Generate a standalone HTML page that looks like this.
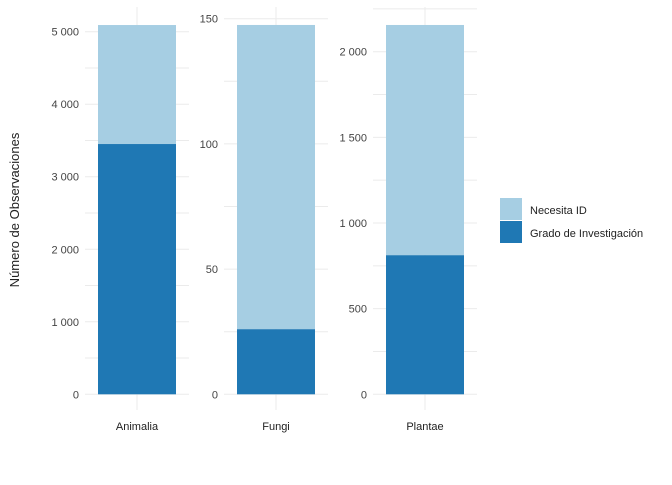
<!DOCTYPE html>
<html><head><meta charset="utf-8"><style>
body{margin:0;background:#fff;font-family:"Liberation Sans","DejaVu Sans",sans-serif}
</style></head><body>
<svg id="chart" width="672" height="480" xmlns="http://www.w3.org/2000/svg" font-family="Liberation Sans, DejaVu Sans, sans-serif">
<text transform="translate(19,210) rotate(-90)" text-anchor="middle" font-size="13" fill="#222">Número de Observaciones</text>
<g>
<rect x="500" y="198" width="22" height="22" fill="#a6cee3"/>
<rect x="500" y="221" width="22" height="22" fill="#1f78b4"/>
<text x="530" y="214" font-size="11" fill="#222">Necesita ID</text>
<text x="530" y="237" font-size="11" fill="#222">Grado de Investigación</text>
</g>
</svg>
<script>
const categories = ["Animalia","Fungi","Plantae"];
const gradoValues = [3451, 26, 812];
const necesitaValues = [1641, 121.5, 1344];
const yMaxes = [5000, 150, 2000];
const tickSteps = [1000, 50, 500];
const tickLabels = [["0","1 000","2 000","3 000","4 000","5 000"],["0","50","100","150"],["0","500","1 000","1 500","2 000"]];
const topPx = [31.7, 18.7, 51.7];
const panelLeft = [85, 224, 373];
const svg = document.getElementById('chart');
const NS = 'http://www.w3.org/2000/svg';
const zeroY = 394.3, panelW = 104, panelTop = 7, panelBot = 410;
function mk(tag, attrs){const e=document.createElementNS(NS,tag);for(const k in attrs)e.setAttribute(k,attrs[k]);svg.insertBefore(e,svg.firstChild.nextSibling);return e;}
categories.forEach((cat,i)=>{
  const scale = v => zeroY - v*(zeroY-topPx[i])/yMaxes[i];
  const x0 = panelLeft[i], cx = x0+panelW/2;
  const g = document.createElementNS(NS,'g');
  
  
  svg.appendChild(g);
  const add=(tag,attrs)=>{const e=document.createElementNS(NS,tag);for(const k in attrs)e.setAttribute(k,attrs[k]);g.appendChild(e);return e;};
  // gridlines
  for(let v=0; scale(v)>=panelTop-1; v+=tickSteps[i]/2){
    const y=scale(v);
    const gl=add('line',{x1:x0,x2:x0+panelW,y1:y,y2:y,stroke:'#ebebeb','stroke-width':1});
    
    
  }
  const vl=add('line',{x1:cx,x2:cx,y1:panelTop,y2:panelBot,stroke:'#ebebeb','stroke-width':1});
  
  
  tickLabels[i].forEach((lab,k)=>{
    const t=add('text',{x:x0-6,y:scale(k*tickSteps[i])+4,'text-anchor':'end','font-size':11,fill:'#444'});
    t.textContent=lab;
    
    
  });
  const bw=78, bx=cx-bw/2;
  const total=gradoValues[i]+necesitaValues[i];
  const b1=add('rect',{x:bx,width:bw,y:scale(total),height:scale(gradoValues[i])-scale(total),fill:'#a6cee3'});
  
  
  const b2=add('rect',{x:bx,width:bw,y:scale(gradoValues[i]),height:zeroY-scale(gradoValues[i]),fill:'#1f78b4'});
  
  
  const xl=add('text',{x:cx,y:430,'text-anchor':'middle','font-size':11,fill:'#222'});
  xl.textContent=cat;
  
  
});
</script>
</body></html>
